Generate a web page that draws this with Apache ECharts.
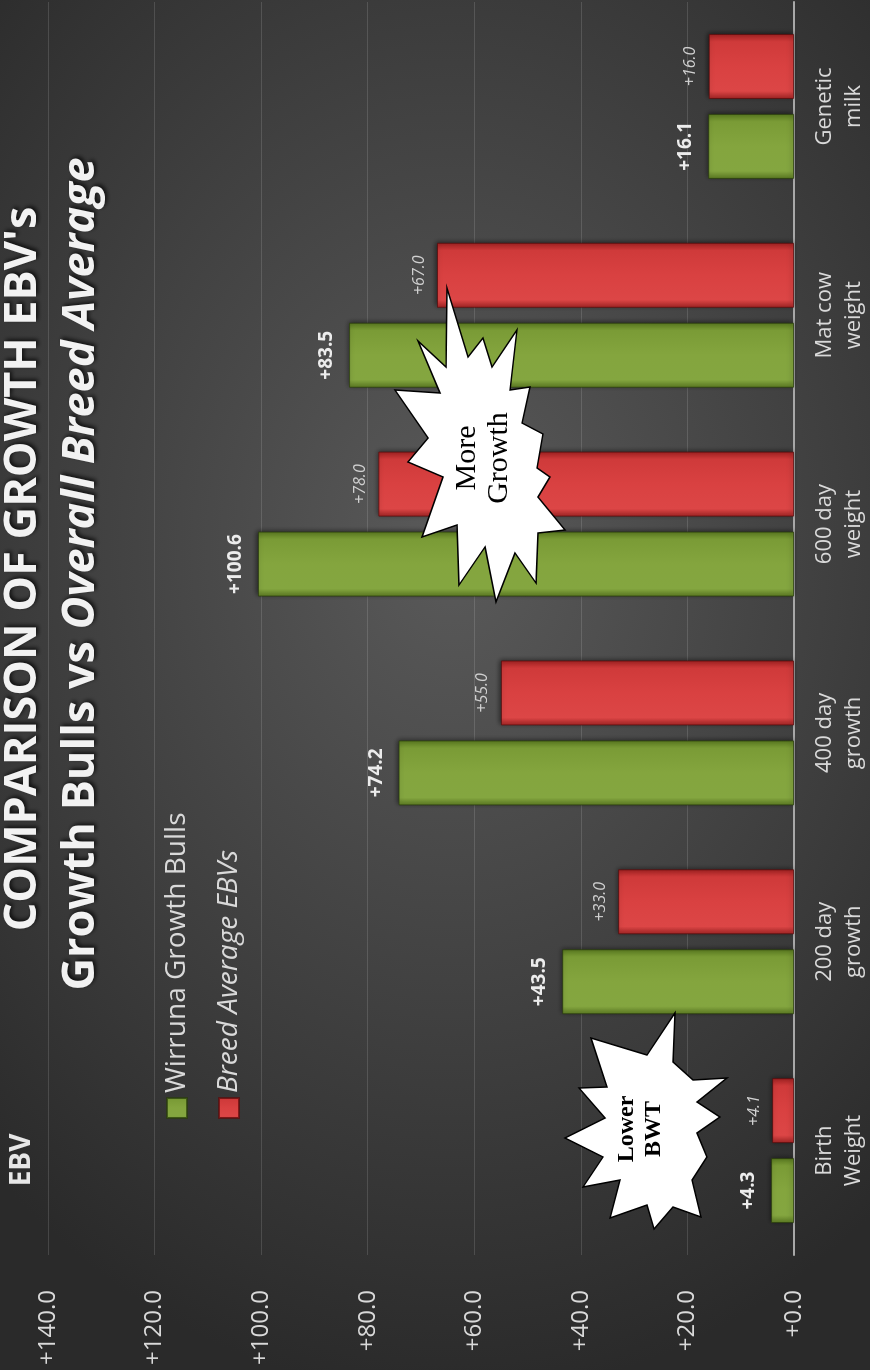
<!DOCTYPE html>
<html>
<head>
<meta charset="utf-8">
<script src="https://cdn.jsdelivr.net/npm/echarts@6/dist/echarts.min.js"></script>
<style>
  html, body { margin: 0; padding: 0; }
  #wrap {
    position: relative; width: 870px; height: 1370px; overflow: hidden;
    background: radial-gradient(ellipse 78% 62% at 52% 40%, #5a5a5a 0%, #404040 55%, #2a2a2a 100%);
  }
  #chart {
    position: absolute; left: 0; top: 0; width: 1370px; height: 870px;
    transform-origin: 0 0; transform: translateY(1370px) rotate(-90deg);
  }
</style>
</head>
<body>
<div id="wrap"><div id="chart"></div></div>
<script>
// ---- data ----
const categories = ['Birth\nWeight', '200 day\ngrowth', '400 day\ngrowth', '600 day\nweight', 'Mat cow\nweight', 'Genetic\nmilk'];
const wirrunaValues = [4.3, 43.5, 74.2, 100.6, 83.5, 16.1];
const breedValues = [4.1, 33.0, 55.0, 78.0, 67.0, 16.0];
const seriesNames = ['Wirruna Growth Bulls', 'Breed Average EBVs'];
const valueAxisMin = 0, valueAxisMax = 140, valueAxisStep = 20;

// decorative callouts (unrotated chart frame)
const moreGrowthStar = [[1082,447],[1003,446],[1029,418],[977,440],[980,395],[932,428],[908,408],[893,443],[833,422],[845,457],[785,459],[823,485],[768,496],[817,515],[787,536],[837,538],[840,565],[873,538],[893,550],[902,537],[936,543],[947,522],[983,530],[980,510],[1040,517],[1003,492],[1032,483],[1013,468]];
const lowerBwtStar = [[357,675],[308,673],[290,693],[292,727],[268,697],[253,720],[237,697],[213,707],[190,692],[153,701],[163,673],[141,654],[165,647],[152,610],[190,620],[183,583],[213,603],[232,565],[252,605],[282,579],[283,607],[332,591],[315,647]];

const FONT = '"Open Sans", "Noto Sans", sans-serif';
const SERIF = '"Liberation Serif", "DejaVu Serif", serif';
const SHADOW = {textShadowBlur: 4, textShadowColor: 'rgba(0,0,0,0.75)', textShadowOffsetX: 2, textShadowOffsetY: 2};

const greenFill = new echarts.graphic.LinearGradient(0, 0, 1, 0, [
  {offset: 0, color: '#5f7f24'}, {offset: 0.12, color: '#84a640'},
  {offset: 0.5, color: '#84a53e'}, {offset: 0.88, color: '#7a9b36'}, {offset: 1, color: '#5a7a20'}
]);
const redFill = new echarts.graphic.LinearGradient(0, 0, 1, 0, [
  {offset: 0, color: '#a82626'}, {offset: 0.12, color: '#dc4646'},
  {offset: 0.5, color: '#d94141'}, {offset: 0.88, color: '#cf3a3a'}, {offset: 1, color: '#a22222'}
]);

const chart = echarts.init(document.getElementById('chart'), null, {renderer: 'canvas'});
chart.setOption({
  backgroundColor: 'transparent',
  animation: false,
  grid: {left: 115, right: 2, top: 48, bottom: 76, containLabel: false},
  legend: [
    {data: [seriesNames[0]], orient: 'vertical', left: 246, top: 158, itemWidth: 20, itemHeight: 20, icon: 'rect',
     textStyle: {color: '#d9d9d9', fontSize: 28, fontFamily: FONT}},
    {data: [seriesNames[1]], orient: 'vertical', left: 246, top: 210, itemWidth: 20, itemHeight: 20, icon: 'rect',
     textStyle: {color: '#d9d9d9', fontSize: 28, fontFamily: FONT, fontStyle: 'italic'}}
  ],
  xAxis: {
    type: 'category', data: categories,
    axisLine: {lineStyle: {color: '#a8a8a8', width: 2}},
    axisTick: {show: false},
    axisLabel: {color: '#d9d9d9', fontSize: 22, lineHeight: 29, fontFamily: FONT, margin: 16}
  },
  yAxis: {
    type: 'value', min: valueAxisMin, max: valueAxisMax, interval: valueAxisStep,
    axisLine: {show: false}, axisTick: {show: false},
    splitLine: {lineStyle: {color: 'rgba(255,255,255,0.13)', width: 1}},
    axisLabel: {color: '#d9d9d9', fontSize: 24, fontFamily: FONT, margin: 35,
      formatter: v => '+' + v.toFixed(1)}
  },
  series: [
    {name: seriesNames[0], type: 'bar', data: wirrunaValues, barWidth: 65, barGap: '23%',
     itemStyle: {color: greenFill, borderColor: 'rgba(40,60,10,0.7)', borderWidth: 1,
       shadowBlur: 5, shadowColor: 'rgba(0,0,0,0.55)', shadowOffsetX: 1, shadowOffsetY: -1},
     label: {show: true, position: 'top', distance: 13, color: '#ececec', fontSize: 19,
       fontWeight: 'bold', fontFamily: FONT, formatter: p => '+' + p.value.toFixed(1)}},
    {name: seriesNames[1], type: 'bar', data: breedValues, barWidth: 65,
     itemStyle: {color: redFill, borderColor: 'rgba(90,10,10,0.7)', borderWidth: 1,
       shadowBlur: 5, shadowColor: 'rgba(0,0,0,0.55)', shadowOffsetX: 1, shadowOffsetY: -1},
     label: {show: true, position: 'top', distance: 10, color: '#d0d0d0', fontSize: 16,
       fontStyle: 'italic', fontFamily: FONT, formatter: p => '+' + p.value.toFixed(1)}}
  ],
  graphic: [
    {type: 'text', x: 801, y: 23, z: 10, style: Object.assign({text: "COMPARISON OF GROWTH EBV's",
      font: 'bold 45px ' + FONT, fill: '#f2f2f2', align: 'center', verticalAlign: 'middle'}, SHADOW)},
    {type: 'text', x: 796, y: 81, z: 10, style: {text: '{a|Growth Bulls vs }{b|Overall Breed Average}',
      align: 'center', verticalAlign: 'middle',
      rich: {
        a: Object.assign({fontSize: 45, fontWeight: 'bold', fontFamily: FONT, fill: '#f2f2f2'}, SHADOW),
        b: Object.assign({fontSize: 45, fontWeight: 'bold', fontStyle: 'italic', fontFamily: FONT, fill: '#f2f2f2'}, SHADOW)
      }}},
    {type: 'text', x: 210, y: 22, z: 10, style: {text: 'EBV', font: 'bold 28px ' + FONT,
      fill: '#e6e6e6', align: 'center', verticalAlign: 'middle'}},
    {type: 'polygon', z: 20, shape: {points: moreGrowthStar},
      style: {fill: '#ffffff', stroke: '#000000', lineWidth: 1.5}},
    {type: 'text', x: 912, y: 483, z: 21, style: {text: 'More\nGrowth', font: '30px ' + SERIF,
      lineHeight: 32, fill: '#000', align: 'center', verticalAlign: 'middle'}},
    {type: 'polygon', z: 20, shape: {points: lowerBwtStar},
      style: {fill: '#ffffff', stroke: '#000000', lineWidth: 1.5}},
    {type: 'text', x: 241, y: 640, z: 21, style: {text: 'Lower\nBWT', font: 'bold 24px ' + SERIF,
      lineHeight: 27, fill: '#000', align: 'center', verticalAlign: 'middle'}}
  ]
});
</script>
</body>
</html>
